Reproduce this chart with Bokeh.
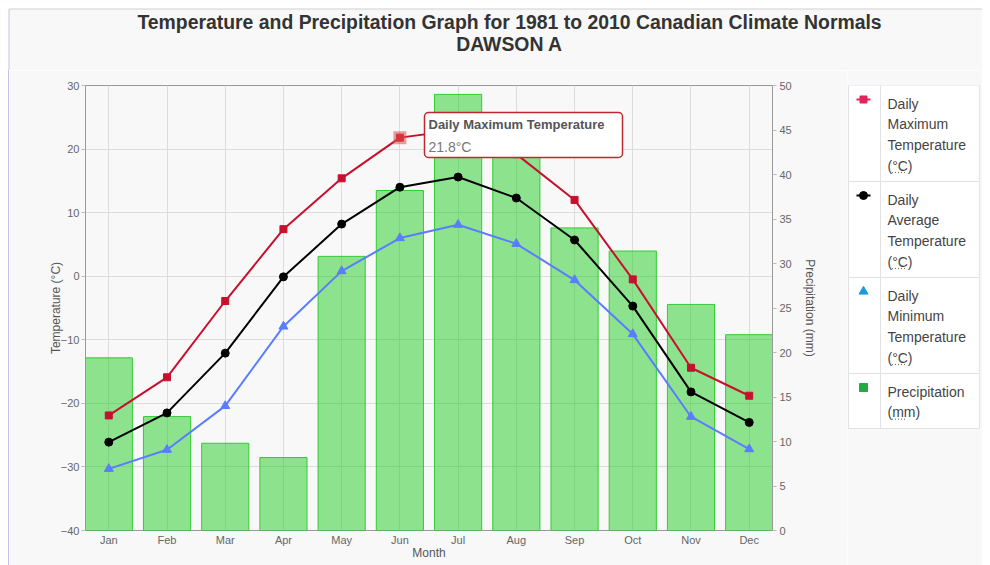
from bokeh.plotting import figure
from bokeh.models import (Range1d, LinearAxis, SingleIntervalTicker, FixedTicker,
                          ColumnDataSource, Label, BoxAnnotation, Div)
from bokeh.layouts import column, row
from bokeh.embed import file_html
from bokeh.resources import INLINE
from bokeh.core.properties import value

# ---------------- data ----------------
months = ["Jan", "Feb", "Mar", "Apr", "May", "Jun",
          "Jul", "Aug", "Sep", "Oct", "Nov", "Dec"]
tmax = [-21.9, -15.9, -3.9, 7.4, 15.4, 21.8, 23.0, 19.2, 12.0, -0.5, -14.4, -18.8]
tavg = [-26.1, -21.5, -12.1, -0.1, 8.2, 14.0, 15.6, 12.3, 5.7, -4.7, -18.2, -23.0]
tmin = [-30.3, -27.3, -20.4, -7.9, 0.8, 6.0, 8.1, 5.1, -0.6, -9.1, -22.1, -27.2]
precip = [19.4, 12.8, 9.8, 8.2, 30.8, 38.2, 49.0, 42.6, 34.0, 31.4, 25.4, 22.0]

title_lines = ["Temperature and Precipitation Graph for 1981 to 2010 Canadian Climate Normals",
               "DAWSON A"]
legend_labels = [["Daily", "Maximum", "Temperature", "(°C)"],
                 ["Daily", "Average", "Temperature", "(°C)"],
                 ["Daily", "Minimum", "Temperature", "(°C)"],
                 ["Precipitation", "(mm)"]]
tooltip_series = "Daily Maximum Temperature"
tooltip_index = 5  # Jun

FONT = "Liberation Sans"
BG = "#f8f8f8"
RED = "#c8102e"
BLUE = "#5a7dff"
BORDER_L = "#c4c0e8"

xs = list(range(len(months)))
src = ColumnDataSource(dict(x=xs, month=months, tmax=tmax, tavg=tavg,
                            tmin=tmin, precip=precip))

# ---------------- title strip ----------------
TW, TH = 982, 70
tf = figure(width=TW, height=TH, x_range=Range1d(0, TW), y_range=Range1d(TH, 0),
            toolbar_location=None, output_backend="svg",
            x_axis_location=None, y_axis_location=None, min_border=0,
            outline_line_color=None, background_fill_color=BG, border_fill_color=BG)
tf.grid.visible = False
tf.rect(x=[TW / 2], y=[4], width=[TW], height=[9], fill_color="#ffffff", line_color=None)
tf.rect(x=[4], y=[TH / 2], width=[9], height=[TH], fill_color="#ffffff", line_color=None)
tf.text(x=[509, 509], y=[21, 43], text=title_lines, text_font=value(FONT),
        text_font_size="19.4px", text_font_style="bold", text_color="#333333",
        text_align="center", text_baseline="middle")
tf.segment(x0=[8.5], y0=[8.5], x1=[TW], y1=[8.5], line_color="#cfcfcf", line_width=1)
tf.segment(x0=[8.5], y0=[8.5], x1=[8.5], y1=[TH], line_color=BORDER_L, line_width=1)

# ---------------- left strip with container border ----------------
MH = 495
sp = Div(width=9, height=MH, margin=0,
         styles={"background": "linear-gradient(to right, #ffffff 0px, #ffffff 8px, "
                               + BORDER_L + " 8px, " + BORDER_L + " 9px)"})

# ---------------- main chart ----------------
MW = 838
BT, BB = 15, 35
p = figure(width=MW, height=MH, x_range=Range1d(-0.4, 11.4), y_range=Range1d(-40, 30),
           toolbar_location=None, output_backend="svg",
           min_border_left=76, min_border_right=75, min_border_top=BT, min_border_bottom=BB,
           background_fill_color=BG, border_fill_color=BG,
           outline_line_color="#999999")

p.extra_y_ranges = {"precip": Range1d(0, 50)}

p.xaxis.ticker = FixedTicker(ticks=xs)
p.xaxis.major_label_overrides = {i: m for i, m in enumerate(months)}
p.xaxis.axis_label = "Month"
p.xaxis.axis_line_color = None
p.xaxis.major_tick_line_color = None
p.xaxis.major_tick_out = 0
p.xaxis.major_tick_in = 0
p.xaxis.minor_tick_line_color = None
p.xaxis.major_label_standoff = 3
p.xaxis.major_label_text_font = FONT
p.xaxis.major_label_text_font_size = "11px"
p.xaxis.major_label_text_color = "#666666"
p.xaxis.axis_label_text_font = FONT
p.xaxis.axis_label_text_font_size = "12px"
p.xaxis.axis_label_text_font_style = "normal"
p.xaxis.axis_label_text_color = "#555555"
p.xaxis.axis_label_standoff = -3

p.yaxis.ticker = SingleIntervalTicker(interval=10)
p.yaxis.axis_label = "Temperature (°C)"
p.yaxis.axis_line_color = "#999999"
p.yaxis.major_tick_out = 4
p.yaxis.major_tick_in = 0
p.yaxis.major_tick_line_color = "#bbbbbb"
p.yaxis.minor_tick_line_color = None
p.yaxis.major_label_standoff = 2
p.yaxis.major_label_text_font = FONT
p.yaxis.major_label_text_font_size = "11px"
p.yaxis.major_label_text_color = "#666666"
p.yaxis.axis_label_text_font = FONT
p.yaxis.axis_label_text_font_size = "12px"
p.yaxis.axis_label_text_font_style = "normal"
p.yaxis.axis_label_text_color = "#555555"
p.yaxis.axis_label_standoff = -5

ax2 = LinearAxis(y_range_name="precip", ticker=SingleIntervalTicker(interval=5),
                 axis_label="Precipitation (mm)")
ax2.axis_line_color = "#999999"
ax2.major_tick_out = 4
ax2.major_tick_in = 0
ax2.major_tick_line_color = "#bbbbbb"
ax2.minor_tick_line_color = None
ax2.major_label_standoff = 3
ax2.major_label_text_font = FONT
ax2.major_label_text_font_size = "11px"
ax2.major_label_text_color = "#666666"
ax2.axis_label_text_font = FONT
ax2.axis_label_text_font_size = "12px"
ax2.axis_label_text_font_style = "normal"
ax2.axis_label_text_color = "#555555"
ax2.axis_label_standoff = 8
p.add_layout(ax2, "right")

p.xgrid.grid_line_color = "#dcdcdc"
p.ygrid.grid_line_color = "#dcdcdc"

p.vbar(x="x", top="precip", bottom=0, width=0.81, source=src, y_range_name="precip",
       fill_color="#22cc22", fill_alpha=0.5, line_color="#33cc33", line_width=1)

p.line("x", "tmax", source=src, line_color=RED, line_width=2)
p.scatter("x", "tmax", source=src, marker="square", size=7, fill_color=RED, line_color=RED)
p.line("x", "tavg", source=src, line_color="#000000", line_width=2)
p.scatter("x", "tavg", source=src, marker="circle", size=8, fill_color="#000000", line_color="#000000")
p.line("x", "tmin", source=src, line_color=BLUE, line_width=2)
p.scatter("x", "tmin", source=src, marker="triangle", size=9, fill_color=BLUE, line_color=BLUE)

# hovered point highlight
p.scatter(x=[xs[tooltip_index]], y=[tmax[tooltip_index]], marker="square", size=13,
          fill_color="#d9534f", fill_alpha=0.55, line_color=None)

# tooltip (screen units relative to the frame's bottom-left corner)
p.add_layout(BoxAnnotation(left=339, right=537, top=418, bottom=373,
                           left_units="screen", right_units="screen",
                           top_units="screen", bottom_units="screen",
                           fill_color="#ffffff", fill_alpha=1.0,
                           line_color="#c0282d", line_alpha=1.0, line_width=1.5,
                           border_radius=4))
p.add_layout(Label(x=343, y=406, x_units="screen", y_units="screen",
                   text=tooltip_series, text_font=FONT, text_font_size="13px",
                   text_font_style="bold", text_color="#555555", text_baseline="middle"))
p.add_layout(Label(x=343, y=384, x_units="screen", y_units="screen",
                   text=f"{tmax[tooltip_index]}°C", text_font=FONT, text_font_size="14px",
                   text_color="#777777", text_baseline="middle"))

# ---------------- legend (page-pixel coordinates, frame aligned with main frame) ----------------
LW = 135
lg = figure(width=LW, height=MH, x_range=Range1d(0, LW), y_range=Range1d(530, 85),
            toolbar_location=None, output_backend="svg",
            x_axis_location=None, y_axis_location=None,
            min_border_left=0, min_border_right=0, min_border_top=BT, min_border_bottom=BB,
            outline_line_color=None, background_fill_color=BG, border_fill_color=BG)
lg.grid.visible = False

row_tops = [85, 181, 277, 373]
row_bots = [181, 277, 373, 428]
lg.quad(left=[1] * 4, right=[33] * 4, top=row_tops, bottom=row_bots,
        fill_color="#ffffff", line_color="#e2e2e2", line_width=1)
lg.quad(left=[33] * 4, right=[132] * 4, top=row_tops, bottom=row_bots,
        fill_color="#ffffff", line_color="#e2e2e2", line_width=1)

tx, ty, tt = [], [], []
for r, lines in enumerate(legend_labels):
    for li, t in enumerate(lines):
        tx.append(40)
        ty.append(row_tops[r] + 18 + 20.7 * li)
        tt.append(t)
lg.text(x=tx, y=ty, text=tt, text_font=value(FONT), text_font_size="14px",
        text_color="#444444", text_baseline="middle")

# dotted underline (abbr) under unit
ux0, ux1, uy = [], [], []
for r, lines in enumerate(legend_labels):
    last = lines[-1]
    yy = row_tops[r] + 18 + 20.7 * (len(lines) - 1) + 7
    ux0.append(44.5)
    ux1.append(44.5 + 7.5 * (len(last) - 2))
    uy.append(yy)
lg.segment(x0=ux0, y0=uy, x1=ux1, y1=uy, line_color="#666666", line_dash="1 2", line_width=1)

mk_y = [t + 14 for t in row_tops]
lg.segment(x0=[9, 9], y0=mk_y[:2], x1=[23, 23], y1=mk_y[:2],
           line_color=["#e0245e", "#000000"], line_width=2)
lg.scatter(x=[16], y=[mk_y[0]], marker="square", size=7, fill_color="#e0245e", line_color="#e0245e")
lg.scatter(x=[16], y=[mk_y[1]], marker="circle", size=8, fill_color="#000000", line_color="#000000")
lg.scatter(x=[16], y=[mk_y[2]], marker="triangle", size=9, fill_color="#1a9be0", line_color="#1a9be0")
lg.scatter(x=[16], y=[mk_y[3]], marker="square", size=8, fill_color="#22aa44", line_color="#22aa44")

layout = column(tf, row(sp, p, lg))

open("out.html", "w").write(file_html(layout, INLINE))
